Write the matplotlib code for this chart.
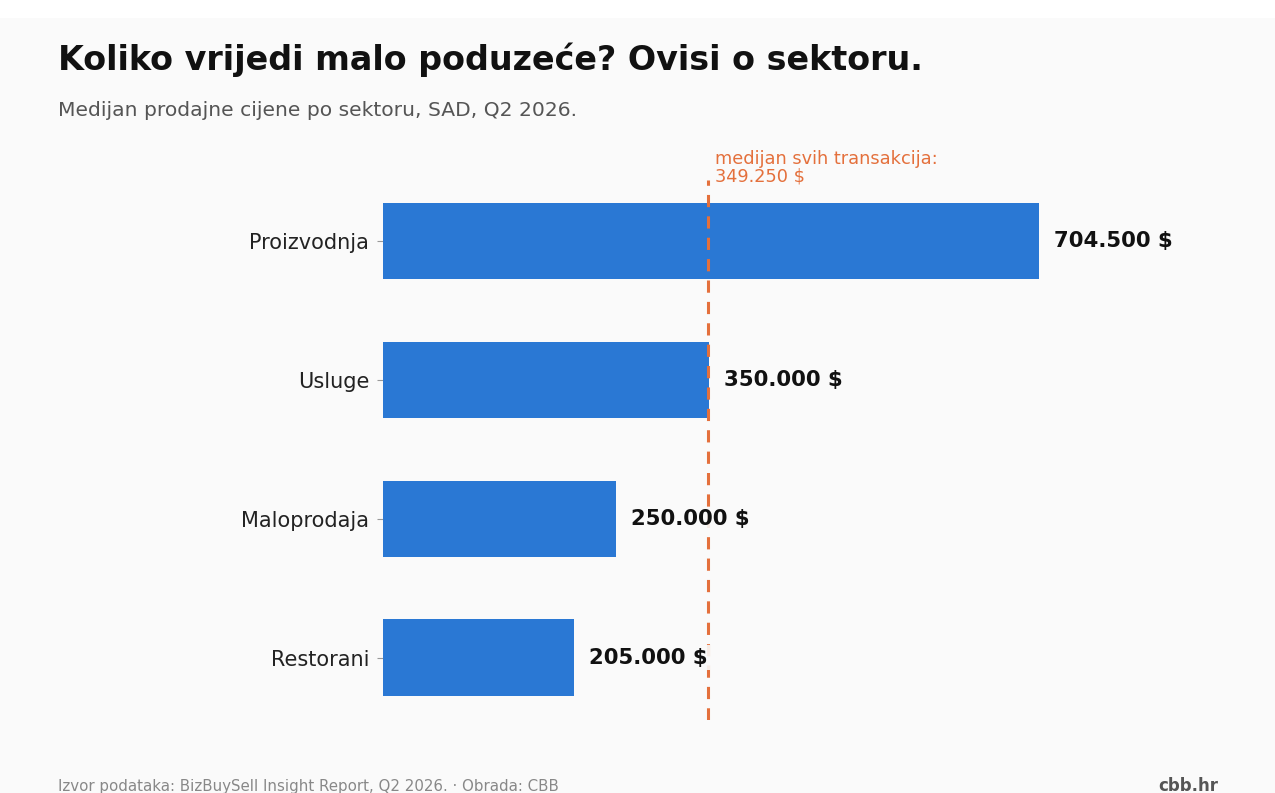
import matplotlib
matplotlib.use("Agg")
import matplotlib.pyplot as plt
from matplotlib.patches import Rectangle

plt.rcParams["font.family"] = "DejaVu Sans"

sectors = ["Proizvodnja", "Usluge", "Maloprodaja", "Restorani"]
prices = [704500, 350000, 250000, 205000]
median_all = 349250

BLUE, ORANGE, BG = "#2a78d4", "#e4703c", "#fafafa"

def fmt(v):
    return f"{v:,.0f}".replace(",", ".") + " $"

fig = plt.figure(figsize=(12.75, 7.93), dpi=100, facecolor=BG)
fig.patches.append(Rectangle((0, 1 - 18 / 793), 1, 18 / 793, transform=fig.transFigure,
                             facecolor="white", edgecolor="none", zorder=0))
ax = fig.add_axes([383 / 1275, (793 - 720) / 793, (1230 - 383) / 1275, 540 / 793])
ax.set_facecolor(BG)

y = list(range(len(sectors)))
ax.barh(y, prices, height=0.55, color=BLUE, zorder=2)
ax.set_ylim(3.45, -0.44)
ax.set_xlim(0, 847 / (656 / 704500))
ax.set_yticks(y)
ax.set_yticklabels(sectors, fontsize=15, color="#222222")
ax.tick_params(axis="y", length=4, color="#999999", pad=6)
ax.set_xticks([])
for s in ax.spines.values():
    s.set_visible(False)

ax.axvline(median_all, color=ORANGE, linestyle=(0, (4, 3)), linewidth=2.2, zorder=3)
ax.text(median_all + 7000, -0.4, "medijan svih transakcija:\n" + fmt(median_all),
        color=ORANGE, fontsize=12.8, va="bottom", ha="left", linespacing=1.0)

for yi, v in zip(y, prices):
    ax.text(v + 16000, yi, fmt(v), va="center", ha="left", fontsize=15.3,
            fontweight="bold", color="#111111", zorder=4,
            bbox=dict(facecolor=BG, edgecolor="none", pad=1.5, alpha=0.9))

fig.text(58 / 1275, 1 - 60 / 793, "Koliko vrijedi malo poduzeće? Ovisi o sektoru.",
         fontsize=24, fontweight="bold", color="#111111", va="center")
fig.text(58 / 1275, 1 - 111 / 793, "Medijan prodajne cijene po sektoru, SAD, Q2 2026.",
         fontsize=14.6, color="#555555", va="center")
fig.text(58 / 1275, 1 - 786 / 793, "Izvor podataka: BizBuySell Insight Report, Q2 2026. · Obrada: CBB",
         fontsize=10.8, color="#888888", va="center")
fig.text(1218 / 1275, 1 - 786 / 793, "cbb.hr", fontsize=12, fontweight="bold",
         color="#555555", va="center", ha="right")

fig.savefig("out.png", dpi=100, facecolor=BG)
